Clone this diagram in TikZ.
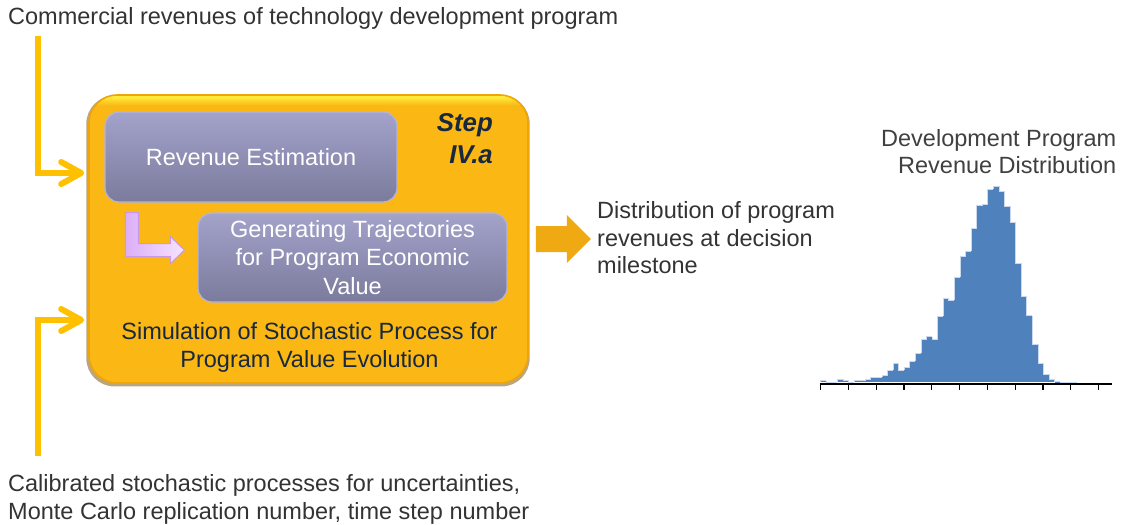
\documentclass[tikz,border=0pt]{standalone}
\usepackage{fontspec}
\setmainfont{Liberation Sans}
\usetikzlibrary{calc,arrows.meta,shadows}

\definecolor{boxorange}{HTML}{FBB713}
\definecolor{boxyellow}{HTML}{FFEA3A}
\definecolor{boxrim}{HTML}{EFA508}
\definecolor{lavtop}{HTML}{A3A3CB}
\definecolor{lavbot}{HTML}{7B7B9D}
\definecolor{lavrim}{HTML}{B4B4DC}
\definecolor{navy}{HTML}{17283F}
\definecolor{txtgray}{HTML}{333333}
\definecolor{feedyellow}{HTML}{FFC000}
\definecolor{blockorange}{HTML}{EEA913}
\definecolor{pinkL}{HTML}{DCAEF8}
\definecolor{pinkR}{HTML}{F6E4FF}
\definecolor{pinkrim}{HTML}{C79AE8}
\definecolor{histblue}{HTML}{4F81BD}
\definecolor{histedge}{HTML}{C9D8EE}
\definecolor{shadowbrown}{HTML}{8A6A2A}

\pgfdeclareverticalshading{mainshade}{100bp}{color(0bp)=(boxorange); color(73.2bp)=(boxorange); color(74.6bp)=(boxyellow); color(100bp)=(boxyellow)}

\tikzset{
  txt/.style={font=\fontsize{23.5}{27.5}\selectfont, inner sep=0pt, text=txtgray},
  mainbox/.style={rounded corners=28pt, minimum width=439pt, minimum height=288pt,
    shade, shading=mainshade, draw=boxrim, line width=1.6pt,
    general shadow={fill=shadowbrown, opacity=0.6, shadow scale=1.01, shadow xshift=-0.5pt, shadow yshift=-2pt}},
  lavbox/.style={rounded corners=14pt, top color=lavtop, bottom color=lavbot,
    draw=lavrim, line width=1.2pt, text=white, align=center,
    font=\fontsize{23.5}{28.3}\selectfont, inner sep=0pt},
  feed/.style={draw=feedyellow, line width=6pt, shorten >=4pt,
    -{Straight Barb[length=20pt, width=22pt, line cap=round, line join=round]}},
  pinkarrow/.style={left color=pinkL, right color=pinkR, draw=pinkrim, line width=1pt},
  blockarrow/.style={fill=blockorange},
  histbar/.style={fill=histblue},
  histline/.style={draw=histedge, line width=0.8pt},
}

\begin{document}
\begin{tikzpicture}[x=1pt, y=-1pt]
\useasboundingbox (0,0) rectangle (1125,525);

% main box and inner boxes
\node[mainbox] (main) at (308.5,239) {};
\node[lavbox, minimum width=292pt, minimum height=90pt] (rev) at (251,157) {Revenue Estimation};
\node[lavbox, minimum width=309pt, minimum height=89pt] (gen) at (352.5,257.5) {Generating Trajectories\\for Program Economic\\Value};

\node[anchor=north east, align=right, inner sep=0pt, text=navy,
  font=\fontsize{25.8}{32}\selectfont\bfseries\itshape] (step) at (493,113.2) {Step\\IV.a};
\node[txt, text=navy, anchor=north, align=center] (sim) at (309.5,322.3)
  {Simulation of Stochastic Process for\\Program Value Evolution};

% pink L arrow
\coordinate (pk) at ($(rev.south west)+(21,10)$);
\draw[pinkarrow] (pk) -- ++(13,0) -- ++(0,31) -- ++(32,0) -- ++(0,-7) -- ++(14,13.5)
  -- ++(-14,13.5) -- ++(0,-7) -- ++(-45,0) -- cycle;

% inputs
\node[txt, anchor=base west] (intext) at (8,24) {Commercial revenues of technology development program};
\node[txt, anchor=north west, align=left] (params) at (8,474.5)
  {Calibrated stochastic processes for uncertainties,\\Monte Carlo replication number, time step number};
\coordinate (inTop) at (38,36);
\coordinate (inBot) at (38,456);
\draw[feed] (inTop) |- ($(main.west)+(0,-66)$);
\draw[feed] (inBot) |- ($(main.west)+(0,81)$);

% output
\fill[blockarrow] ($(main.east)+(7,-13)$) -- ++(31,0) -- ++(0,-11) -- ++(24,24)
  -- ++(-24,24) -- ++(0,-11) -- ++(-31,0) -- cycle;
\node[txt, anchor=north west, align=left] (dist) at (597,201.3)
  {Distribution of program\\revenues at decision\\milestone};

% histogram
\node[txt, anchor=north east, align=right, text=black!75] (htitle) at (1116.5,129)
  {Development Program\\Revenue Distribution};
\def\histdata{1.7,0.3,0.3,3.3,1.7,0.3,1.7,1.7,3.3,5.3,5.3,7,12,18.7,12,15.3,21,29.3,43.3,45.7,43.3,66.3,84,82.3,105,126.3,131.3,154,176.7,178,193,196.3,191.3,176.3,160,119,86.3,66.7,38.3,18.7,8.3,3.3,0.7,0.3,0.3,0.3}
\foreach \h [count=\i from 0] in \histdata
  \fill[histbar] ({820.7+5.57*\i-0.05},382.3) rectangle ++(5.67,{-\h});
\foreach \h [count=\i from 0, remember=\h as \hp (initially 0)] in \histdata
  \draw[histline] ({820.7+5.57*\i},{382.3-\hp}) -- ({820.7+5.57*\i},{382.3-\h}) -- ++(5.57,0);
\draw[line width=1.5pt] (819.5,384) -- (1112,384);
\foreach \k in {0,...,10}
  \draw[line width=1.2pt] ({820.5+27.8*\k},384) -- ++(0,6);
\end{tikzpicture}
\end{document}
